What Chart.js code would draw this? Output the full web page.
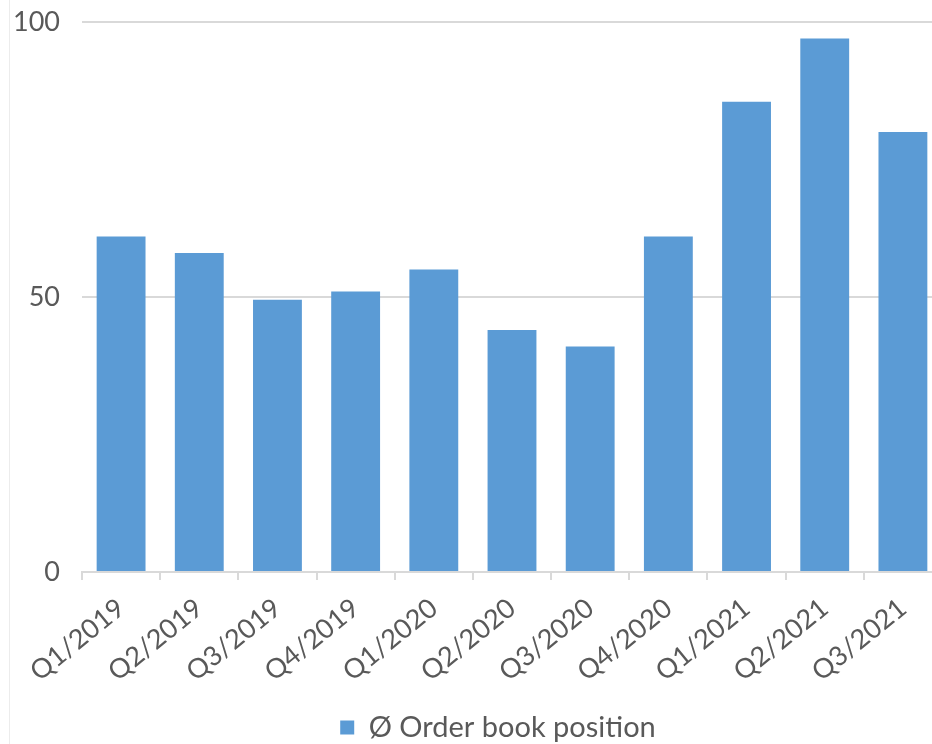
<!DOCTYPE html>
<html>
<head>
<meta charset="utf-8">
<script src="https://cdn.jsdelivr.net/npm/chart.js@4"></script>
<style>
  html, body { margin: 0; padding: 0; background: #fff; overflow: hidden; }
  #wrap { position: relative; width: 932px; height: 744px; overflow: hidden; }
  #edge { position: absolute; left: 9px; top: 0; width: 1px; height: 744px; background: #ececec; }
  canvas { position: absolute; left: 0; top: 0; }
</style>
</head>
<body>
<div id="wrap">
  <canvas id="c" width="942" height="744"></canvas>
  <div id="edge"></div>
</div>
<script>
const categories = ["Q1/2019","Q2/2019","Q3/2019","Q4/2019","Q1/2020","Q2/2020","Q3/2020","Q4/2020","Q1/2021","Q2/2021","Q3/2021"];
const orderBookPosition = [61, 58, 49.5, 51, 55, 44, 41, 61, 85.5, 97, 80];
const seriesLabel = "Ø Order book position";
const yTicks = [0, 50, 100];

const textColor = "#595959";
const fontFamily = "Lato, 'Open Sans', sans-serif";

const shiftLegend = {
  id: "shiftLegend",
  afterLayout(chart) {
    const lg = chart.legend;
    if (lg) { lg.left += 20; lg.right += 20; lg.top += 10; lg.bottom += 10; }
  }
};

new Chart(document.getElementById("c"), {
  type: "bar",
  data: {
    labels: categories,
    datasets: [{
      label: seriesLabel,
      data: orderBookPosition,
      backgroundColor: "#5b9bd5",
      borderWidth: 0,
      categoryPercentage: 1.0,
      barPercentage: 0.625
    }]
  },
  plugins: [shiftLegend],
  options: {
    responsive: false,
    animation: false,
    layout: { padding: { top: 22, right: 0, left: 14, bottom: 2 } },
    plugins: {
      legend: {
        position: "bottom",
        labels: {
          color: textColor,
          font: { family: fontFamily, size: 29 },
          boxWidth: 14,
          boxHeight: 14,
          padding: 0
        }
      },
      tooltip: { enabled: false }
    },
    scales: {
      x: {
        offset: true,
        afterFit: (s) => { s.paddingLeft = 0; s.paddingRight = 0; s.height = 131; },
        grid: {
          offset: true,
          drawOnChartArea: false,
          drawTicks: true,
          tickLength: 8,
          color: "#d9d9d9",
          lineWidth: 2
        },
        border: { color: "#d9d9d9", width: 2 },
        ticks: {
          color: textColor,
          font: { family: fontFamily, size: 27 },
          minRotation: 39,
          maxRotation: 39,
          padding: 12
        }
      },
      y: {
        min: 0,
        max: 100,
        afterFit: (s) => { s.paddingTop = 0; s.paddingBottom = 0; s.width = 68; },
        afterBuildTicks: (axis) => { axis.ticks = yTicks.map(v => ({ value: v })); },
        grid: {
          color: "#d9d9d9",
          lineWidth: 2,
          drawTicks: false
        },
        border: { display: false },
        ticks: {
          color: textColor,
          font: { family: fontFamily, size: 27 },
          padding: 22
        }
      }
    }
  }
});
</script>
</body>
</html>
